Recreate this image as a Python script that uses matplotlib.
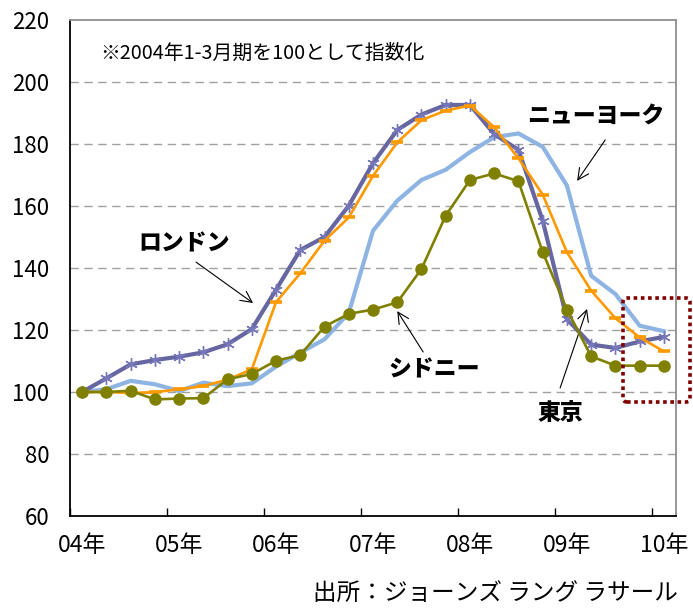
import matplotlib
matplotlib.use("Agg")
import matplotlib.pyplot as plt
from matplotlib.patches import FancyBboxPatch
import numpy as np

plt.rcParams['font.family'] = ['Noto Sans CJK JP', 'DejaVu Sans']

# ---- data (quarterly, 2004 Q1 = 100) ----
year_labels = ['04年', '05年', '06年', '07年', '08年', '09年', '10年']
new_york = [100, 100.9, 103.6, 102.5, 100.3, 103.0, 101.9, 102.8, 108.2, 112.7,
            117.0, 125.5, 152.0, 161.7, 168.4, 171.7, 177.4, 182.2, 183.4, 179.1,
            166.6, 137.5, 131.6, 121.4, 119.6]
london = [100, 104.4, 108.9, 110.3, 111.4, 112.8, 115.4, 120.3, 133.0, 145.8,
          150.0, 160.1, 173.8, 184.5, 189.5, 192.6, 192.6, 183.2, 178.1, 155.3,
          123.5, 115.3, 114.2, 116.3, 117.8]
tokyo = [100, 100, 99.7, 99.9, 100.9, 101.9, 104.0, 107.3, 129.0, 138.3,
         148.8, 156.3, 169.7, 180.5, 187.7, 190.8, 192.4, 185.4, 175.4, 163.7,
         145.1, 132.7, 123.8, 117.6, 113.1]
sydney = [100, 100, 100.4, 97.6, 97.9, 98.0, 104.1, 105.8, 110.1, 111.9,
          121.1, 125.2, 126.6, 128.9, 139.7, 156.9, 168.4, 170.5, 168.0, 145.1,
          126.6, 111.5, 108.5, 108.5, 108.5]
note_text = '※2004年1-3月期を100として指数化'
source_text = '出所：ジョーンズ ラング ラサール'

n = len(london)
x = np.arange(n)

fig = plt.figure(figsize=(6.93, 6.08), dpi=100)
ax = fig.add_axes([70/693, 92/608, 606/693, 496/608])

ax.plot(x, new_york, color='#8DB4E2', lw=3.0, solid_joinstyle='miter', zorder=3)
ax.plot(x, london, color='#6666A0', lw=3.0, marker=(6, 2, 0), markersize=9,
        markeredgecolor='#7777BB', markeredgewidth=1.0, zorder=4)
ax.plot(x, tokyo, color='#FF9900', lw=1.9, marker='_', markersize=9,
        markeredgewidth=2.6, markeredgecolor='#FF9900', zorder=5)
ax.plot(x, sydney, color='#808000', lw=1.9, marker='o', markersize=8,
        markerfacecolor='#808000', markeredgecolor='#808000', zorder=6)

ax.set_xlim(-0.5, n - 0.5)
ax.set_ylim(60, 220)
ax.set_yticks(np.arange(60, 221, 20))
ax.tick_params(axis='y', length=0, pad=15, labelsize=16)
for yv in range(80, 201, 20):
    ax.axhline(yv, color='#A0A0A0', lw=1.0, ls=(0, (6, 4)), zorder=1)

ax.set_xticks(np.arange(-0.5, n, 4))
ax.set_xticklabels([])
ax.set_xticks(np.arange(0, n, 4), minor=True)
ax.set_xticklabels(year_labels, minor=True, fontsize=16.5)
ax.tick_params(axis='x', which='major', direction='in', length=6, width=1, color='black')
ax.tick_params(axis='x', which='minor', length=0, pad=13)

for s in ['left', 'bottom']:
    ax.spines[s].set_color('black')
    ax.spines[s].set_linewidth(1.3)
for s in ['top', 'right']:
    ax.spines[s].set_color('#909090')
    ax.spines[s].set_linewidth(1.3)

ax.text(0.0495, 0.933, note_text, transform=ax.transAxes, fontsize=14.3,
        ha='left', va='center')

arrow = dict(arrowstyle='->', lw=0.8, color='black', mutation_scale=20,
             shrinkA=0, shrinkB=0)
ax.annotate('', xy=(7.05, 128.7), xytext=(4.70, 141.9), arrowprops=arrow)
ax.annotate('', xy=(20.42, 168.1), xytext=(21.58, 181.3), arrowprops=arrow)
ax.annotate('', xy=(13.0, 126.1), xytext=(14.07, 112.9), arrowprops=arrow)
ax.annotate('', xy=(20.83, 126.8), xytext=(19.72, 101.3), arrowprops=arrow)

lab = dict(fontsize=16.5, fontweight='heavy', ha='center', va='center', zorder=7)
ax.text(4.21, 147.7, 'ロンドン', **lab)
ax.text(21.2, 188.7, 'ニューヨーク', **lab)
ax.text(14.52, 107.1, 'シドニー', **lab)
ax.text(19.72, 93.2, '東京', **lab)

box = FancyBboxPatch((6.23, 2.06), 0.67, 1.04,
                     boxstyle='round,pad=0,rounding_size=0.04',
                     transform=fig.dpi_scale_trans, fill=False,
                     edgecolor='#800000', lw=2.6, ls=(0, (1, 1)), zorder=10)
fig.add_artist(box)

fig.text(678/693, 1 - 593/608, source_text, fontsize=17, ha='right', va='center')

fig.savefig('out.png', dpi=100)
